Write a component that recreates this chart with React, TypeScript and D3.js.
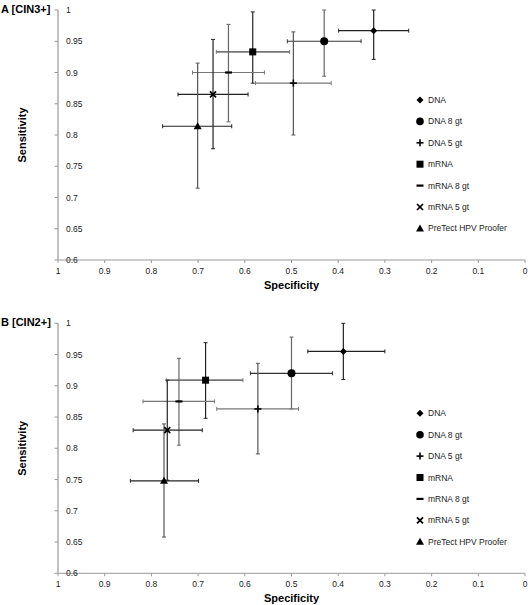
import React from "react";
import * as d3 from "d3";

const seriesNames = ["DNA", "DNA 8 gt", "DNA 5 gt", "mRNA", "mRNA 8 gt", "mRNA 5 gt", "PreTect HPV Proofer"];
const markers = ["diamond", "circle", "plus", "square", "dash", "cross", "triangle"];

// Panel A [CIN3+]
const specA = [0.324, 0.43, 0.496, 0.583, 0.635, 0.668, 0.701];
const specALo = [0.249, 0.351, 0.415, 0.504, 0.558, 0.593, 0.628];
const specAHi = [0.399, 0.509, 0.577, 0.661, 0.712, 0.743, 0.776];
const sensA = [0.967, 0.95, 0.883, 0.933, 0.9, 0.865, 0.814];
const sensALo = [0.921, 0.894, 0.8, 0.883, 0.821, 0.778, 0.715];
const sensAHi = [1.0, 1.0, 0.965, 0.997, 0.977, 0.953, 0.915];

// Panel B [CIN2+]
const specB = [0.389, 0.5, 0.572, 0.684, 0.741, 0.766, 0.773];
const specBLo = [0.3, 0.412, 0.485, 0.604, 0.665, 0.691, 0.699];
const specBHi = [0.465, 0.588, 0.66, 0.768, 0.818, 0.839, 0.845];
const sensB = [0.955, 0.92, 0.863, 0.909, 0.875, 0.829, 0.748];
const sensBLo = [0.91, 0.863, 0.791, 0.848, 0.805, 0.749, 0.658];
const sensBHi = [1.0, 0.978, 0.936, 0.969, 0.944, 0.909, 0.839];

const xTicks = [1, 0.9, 0.8, 0.7, 0.6, 0.5, 0.4, 0.3, 0.2, 0.1, 0];
const yTicks = [0.6, 0.65, 0.7, 0.75, 0.8, 0.85, 0.9, 0.95, 1];

const hColors = ["#222", "#333", "#777", "#777", "#777", "#222", "#222"];
const vColors = ["#222", "#666", "#555", "#222", "#666", "#222", "#555"];

const FONT = "'Liberation Sans', Arial, sans-serif";

function Marker({ type, x, y, big }: { type: string; x: number; y: number; big?: boolean }) {
  const c = "#000";
  switch (type) {
    case "diamond":
      return <path d={`M${x},${y - 3.5}L${x + 3.5},${y}L${x},${y + 3.5}L${x - 3.5},${y}Z`} fill={c} />;
    case "circle":
      return <circle cx={x} cy={y} r={big ? 4 : 3.8} fill={c} />;
    case "plus":
      return (
        <g stroke={c} strokeWidth={1.6}>
          <line x1={x - 3.5} x2={x + 3.5} y1={y} y2={y} />
          <line x1={x} x2={x} y1={y - 3.5} y2={y + 3.5} />
        </g>
      );
    case "square":
      return <rect x={x - 3.5} y={y - 3.5} width={7} height={7} fill={c} />;
    case "dash":
      return <line x1={x - 3.5} x2={x + 3.5} y1={y} y2={y} stroke={c} strokeWidth={2.2} />;
    case "cross":
      return (
        <g stroke={c} strokeWidth={1.7}>
          <line x1={x - 3} x2={x + 3} y1={y - 3} y2={y + 3} />
          <line x1={x - 3} x2={x + 3} y1={y + 3} y2={y - 3} />
        </g>
      );
    case "triangle":
      return <path d={`M${x},${y - 4}L${x + 4},${y + 3}L${x - 4},${y + 3}Z`} fill={c} />;
  }
  return null;
}

function Panel({
  top,
  label,
  spec,
  specLo,
  specHi,
  sens,
  sensLo,
  sensHi,
}: {
  top: number;
  label: string;
  spec: number[];
  specLo: number[];
  specHi: number[];
  sens: number[];
  sensLo: number[];
  sensHi: number[];
}) {
  const x = d3.scaleLinear().domain([1, 0]).range([58, 525]);
  const y = d3.scaleLinear().domain([0.6, 1]).range([top + 250, top]);
  const x0 = x(1);
  const yb = y(0.6);
  const cap = 2;
  return (
    <g>
      <text x={1} y={top + 3} fontFamily={FONT} fontWeight="bold" fontSize={11} fill="#000">
        {label}
      </text>
      {/* x axis */}
      <line x1={x0} x2={x(0)} y1={yb} y2={yb} stroke="#999" strokeWidth={1} />
      {xTicks.map((t) => (
        <g key={t}>
          <line x1={x(t)} x2={x(t)} y1={yb} y2={yb + 3} stroke="#999" />
          <text x={x(t)} y={yb + 14} textAnchor="middle" fontFamily={FONT} fontSize={8.5} fill="#222">
            {String(t)}
          </text>
        </g>
      ))}
      {/* y axis */}
      <line x1={x0} x2={x0} y1={y(1)} y2={yb} stroke="#bbb" strokeWidth={1.8} />
      {yTicks.map((t) => (
        <g key={t}>
          <line x1={x0 - 3.5} x2={x0} y1={y(t)} y2={y(t)} stroke="#999" />
          <text x={x0 + 8} y={y(t) + 3} fontFamily={FONT} fontSize={8.5} fill="#222">
            {String(t)}
          </text>
        </g>
      ))}
      <text
        transform={`translate(26,${top + 125}) rotate(-90)`}
        textAnchor="middle"
        fontFamily={FONT}
        fontWeight="bold"
        fontSize={11}
        fill="#000"
      >
        Sensitivity
      </text>
      <text x={x(0.5)} y={yb + 29} textAnchor="middle" fontFamily={FONT} fontWeight="bold" fontSize={11} fill="#000">
        Specificity
      </text>
      {/* error bars */}
      {seriesNames.map((s, i) => {
        const cx = x(spec[i]);
        const cy = y(sens[i]);
        const hl = x(specHi[i]);
        const hr = x(specLo[i]);
        const vt = y(sensHi[i]);
        const vb = y(sensLo[i]);
        const hw = s === "mRNA" ? 1.8 : 1.2;
        return (
          <g key={s}>
            <g stroke={hColors[i]} strokeWidth={hw}>
              <line x1={hl} x2={hr} y1={cy} y2={cy} />
              <line x1={hl} x2={hl} y1={cy - cap} y2={cy + cap} strokeWidth={1} />
              <line x1={hr} x2={hr} y1={cy - cap} y2={cy + cap} strokeWidth={1} />
            </g>
            <g stroke={vColors[i]} strokeWidth={1.2}>
              <line x1={cx} x2={cx} y1={vt} y2={vb} />
              <line x1={cx - cap} x2={cx + cap} y1={vt} y2={vt} strokeWidth={1} />
              <line x1={cx - cap} x2={cx + cap} y1={vb} y2={vb} strokeWidth={1} />
            </g>
          </g>
        );
      })}
      {seriesNames.map((s, i) => (
        <Marker key={s} type={markers[i]} x={x(spec[i])} y={y(sens[i])} big={i === 1} />
      ))}
      {/* legend */}
      {seriesNames.map((s, i) => {
        const ly = top + 90 + i * 21.4;
        return (
          <g key={s}>
            <Marker type={markers[i]} x={420} y={ly} />
            <text x={428} y={ly + 3} fontFamily={FONT} fontSize={8.5} fill="#222">
              {s}
            </text>
          </g>
        );
      })}
    </g>
  );
}

export default function App() {
  return (
    <svg
      width={528}
      height={605}
      style={{ position: "absolute", left: 0, top: 0, background: "#fff" }}
    >
      <rect width={528} height={605} fill="#fff" />
      <Panel
        top={10}
        label="A [CIN3+]"
        spec={specA}
        specLo={specALo}
        specHi={specAHi}
        sens={sensA}
        sensLo={sensALo}
        sensHi={sensAHi}
      />
      <Panel
        top={323.3}
        label="B [CIN2+]"
        spec={specB}
        specLo={specBLo}
        specHi={specBHi}
        sens={sensB}
        sensLo={sensBLo}
        sensHi={sensBHi}
      />
    </svg>
  );
}
